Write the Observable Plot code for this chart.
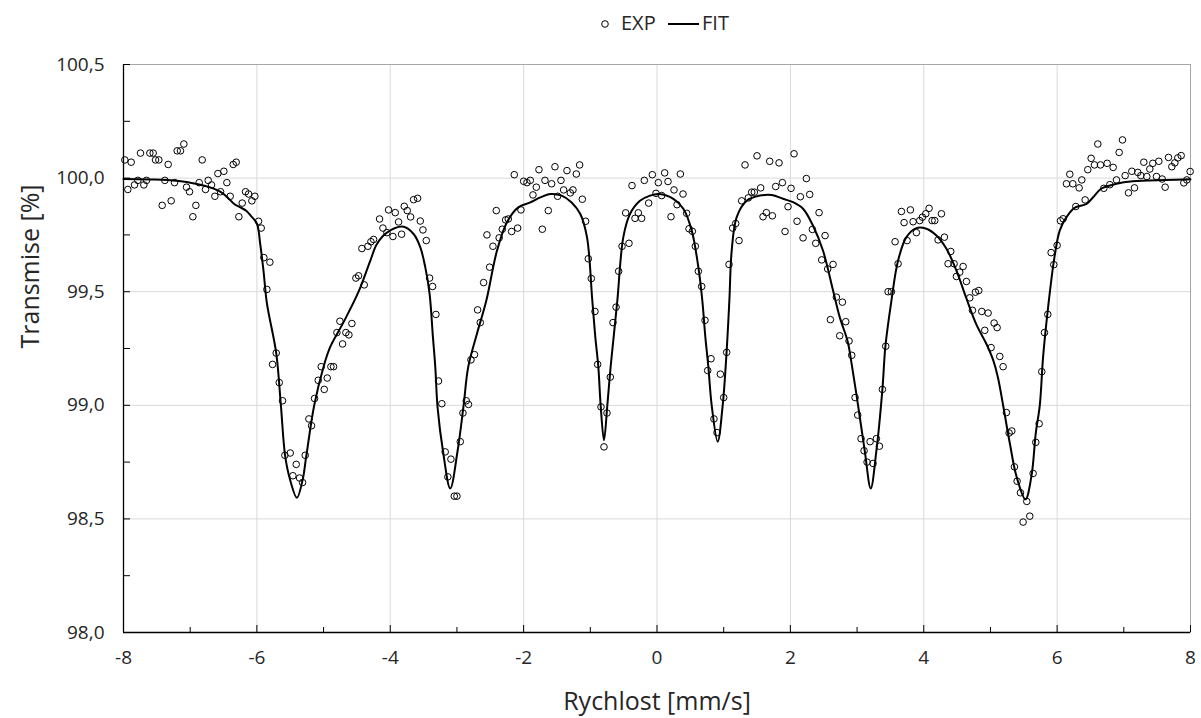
<!DOCTYPE html>
<html>
<head>
<meta charset="utf-8">
<script src="https://cdn.jsdelivr.net/npm/d3@7"></script>
<script src="https://cdn.jsdelivr.net/npm/@observablehq/plot@0.6"></script>
<style>
  html, body { margin: 0; padding: 0; background: #fff; }
  body { width: 1201px; height: 718px; overflow: hidden; font-family: "Open Sans", sans-serif; }
  #legend { position: relative; height: 40px; width: 1201px; }
  #legend .item { position: absolute; top: 12px; font-size: 20px; color: #262626; line-height: 22px; }
</style>
</head>
<body>
<div id="legend"></div>
<div id="chart"></div>
<script>
// ---- data ----
const expV = [
-7.98,-7.935,-7.885,-7.835,-7.785,-7.745,-7.695,-7.655,-7.605,-7.555,-7.52,-7.47,-7.42,-7.38,-7.33,-7.285,-7.235,-7.195,-7.145,-7.095,
-7.055,-7.01,-6.96,-6.915,-6.865,-6.82,-6.77,-6.73,-6.68,-6.63,-6.585,-6.545,-6.495,-6.45,-6.40,-6.355,-6.31,-6.27,-6.22,-6.17,
-6.125,-6.075,-6.03,-5.975,-5.935,-5.895,-5.85,-5.805,-5.765,-5.71,-5.665,-5.615,-5.58,-5.50,-5.46,-5.41,-5.36,-5.315,-5.275,-5.22,
-5.18,-5.135,-5.08,-5.035,-4.99,-4.945,-4.89,-4.85,-4.80,-4.755,-4.715,-4.665,-4.62,-4.575,-4.515,-4.475,-4.425,-4.39,-4.335,-4.29,
-4.25,-4.16,-4.11,-4.05,-4.025,-3.96,-3.925,-3.875,-3.83,-3.79,-3.745,-3.695,-3.65,-3.59,-3.55,-3.51,-3.46,-3.41,-3.365,-3.315,
-3.276,-3.226,-3.176,-3.136,-3.09,-3.04,-3.00,-2.95,-2.91,-2.86,-2.827,-2.79,-2.737,-2.69,-2.65,-2.60,-2.55,-2.51,-2.46,-2.41,
-2.367,-2.32,-2.27,-2.23,-2.18,-2.14,-2.09,-2.04,-2.00,-1.95,-1.90,-1.86,-1.81,-1.77,-1.72,-1.68,-1.63,-1.58,-1.53,-1.49,
-1.44,-1.40,-1.35,-1.30,-1.26,-1.21,-1.16,-1.12,-1.07,-1.03,-0.985,-0.93,-0.89,-0.84,-0.795,-0.75,-0.70,-0.66,-0.614,-0.575,
-0.524,-0.47,-0.42,-0.375,-0.33,-0.28,-0.23,-0.19,-0.125,-0.07,-0.015,0.02,0.07,0.115,0.165,0.21,0.255,0.30,0.35,0.39,
0.445,0.48,0.53,0.575,0.62,0.67,0.72,0.76,0.81,0.854,0.90,0.95,1.00,1.045,1.08,1.135,1.18,1.23,1.27,1.32,
1.37,1.42,1.46,1.50,1.555,1.59,1.64,1.69,1.73,1.78,1.83,1.88,1.92,1.965,2.01,2.055,2.10,2.15,2.19,2.24,
2.29,2.33,2.38,2.43,2.47,2.52,2.56,2.60,2.64,2.69,2.74,2.78,2.83,2.88,2.92,2.97,3.01,3.06,3.105,3.15,
3.195,3.24,3.29,3.335,3.38,3.43,3.465,3.515,3.57,3.615,3.665,3.705,3.75,3.80,3.84,3.89,3.94,3.98,4.03,4.08,
4.125,4.165,4.215,4.265,4.31,4.365,4.405,4.455,4.49,4.54,4.59,4.64,4.69,4.73,4.775,4.825,4.87,4.915,4.965,5.01,
5.055,5.10,5.14,5.19,5.24,5.28,5.32,5.36,5.40,5.45,5.49,5.545,5.59,5.64,5.68,5.73,5.77,5.81,5.86,5.91,
5.95,6.00,6.05,6.09,6.14,6.19,6.235,6.28,6.33,6.37,6.42,6.46,6.51,6.56,6.61,6.65,6.70,6.75,6.79,6.84,
6.89,6.93,6.98,7.02,7.07,7.12,7.16,7.21,7.255,7.30,7.345,7.39,7.435,7.49,7.525,7.575,7.62,7.67,7.72,7.765,
7.81,7.86,7.90,7.945,7.995
];
const expT = [
100.08,99.95,100.07,99.97,99.99,100.11,99.97,99.99,100.11,100.11,100.08,100.08,99.88,99.99,100.06,99.90,99.98,100.12,100.12,100.15,
99.96,99.94,99.83,99.88,99.98,100.08,99.95,99.99,99.97,99.92,100.02,99.94,100.03,99.98,99.92,100.06,100.07,99.83,99.89,99.94,
99.93,99.90,99.92,99.81,99.78,99.65,99.51,99.63,99.18,99.23,99.10,99.02,98.78,98.79,98.69,98.74,98.68,98.66,98.78,98.94,
98.91,99.03,99.11,99.17,99.07,99.12,99.17,99.17,99.32,99.37,99.27,99.32,99.31,99.36,99.56,99.57,99.69,99.53,99.70,99.72,
99.73,99.82,99.78,99.76,99.86,99.743,99.848,99.807,99.753,99.876,99.857,99.829,99.905,99.911,99.811,99.772,99.725,99.56,99.523,99.40,
99.107,99.007,98.795,98.685,98.763,98.60,98.60,98.84,98.966,99.02,99.004,99.20,99.223,99.42,99.364,99.54,99.75,99.608,99.70,99.857,
99.737,99.775,99.816,99.82,99.765,100.015,99.78,99.86,99.986,99.98,99.99,99.926,99.96,100.037,99.775,99.99,99.857,99.975,100.05,99.92,
99.99,99.948,100.033,99.935,99.948,100.018,100.058,99.907,99.81,99.645,99.558,99.413,99.18,98.993,98.817,98.966,99.124,99.364,99.432,99.59,
99.70,99.847,99.713,99.967,99.823,99.847,99.823,99.99,99.89,100.015,99.933,99.98,99.923,100.023,99.985,99.83,99.948,99.883,100.018,99.93,
99.845,99.777,99.766,99.70,99.59,99.523,99.374,99.153,99.205,98.94,98.88,99.137,99.034,99.233,99.62,99.78,99.80,99.725,99.90,100.058,
99.913,99.938,99.938,100.098,99.957,99.83,99.848,100.074,99.834,99.963,100.067,99.98,99.765,99.874,99.955,100.107,99.81,99.918,99.737,99.998,
99.928,99.774,99.713,99.848,99.64,99.747,99.60,99.377,99.62,99.476,99.306,99.454,99.368,99.283,99.22,99.034,98.957,98.853,98.80,98.75,
98.84,98.744,98.853,98.82,99.07,99.26,99.50,99.50,99.72,99.623,99.853,99.804,99.725,99.86,99.808,99.76,99.813,99.828,99.843,99.867,
99.813,99.813,99.728,99.843,99.74,99.623,99.677,99.623,99.567,99.586,99.611,99.545,99.473,99.418,99.498,99.505,99.413,99.33,99.406,99.254,
99.362,99.342,99.215,99.17,98.968,98.878,98.887,98.729,98.666,98.615,98.486,98.577,98.512,98.70,98.837,98.919,99.148,99.32,99.40,99.672,
99.619,99.704,99.812,99.821,99.975,100.017,99.975,99.875,99.957,99.992,99.904,100.037,100.087,100.058,100.15,100.058,99.955,100.065,99.971,100.047,
99.992,100.113,100.168,100.011,99.935,100.03,99.957,100.025,100.011,100.07,100.007,100.04,100.065,100.007,100.074,99.996,99.96,100.091,100.05,100.067,
100.089,100.099,99.979,99.992,100.029
];
const fitV = [
-8,-7.6,-7.2,-6.9,-6.7,-6.55,-6.44,-6.34,-6.24,-6.16,-6.09,-6.0,-5.95,-5.9,-5.85,-5.71,-5.64,-5.575,-5.5,-5.4,
-5.315,-5.26,-5.14,-5.0,-4.9,-4.7,-4.475,-4.3,-4.2,-4.05,-3.8,-3.65,-3.55,-3.475,-3.41,-3.36,-3.325,-3.29,-3.21,-3.10,
-2.99,-2.90,-2.83,-2.70,-2.56,-2.40,-2.25,-2.08,-1.90,-1.75,-1.60,-1.43,-1.28,-1.15,-1.05,-0.97,-0.925,-0.88,-0.845,-0.795,
-0.745,-0.695,-0.64,-0.595,-0.505,-0.405,-0.255,-0.105,0.03,0.245,0.395,0.52,0.62,0.68,0.725,0.77,0.82,0.91,0.985,1.045,
1.085,1.12,1.195,1.345,1.545,1.72,1.89,2.04,2.19,2.34,2.49,2.64,2.74,2.86,2.92,3.015,3.115,3.205,3.29,3.38,
3.425,3.515,3.615,3.74,3.89,4.04,4.19,4.34,4.49,4.64,4.79,4.94,5.04,5.11,5.19,5.29,5.39,5.525,5.615,5.68,
5.74,5.79,5.86,5.96,6.04,6.14,6.26,6.44,6.54,6.66,6.89,7.135,7.635,8.0
];
const fitT = [
99.996,99.994,99.988,99.974,99.959,99.94,99.915,99.886,99.87,99.856,99.834,99.80,99.71,99.59,99.45,99.23,99.0,98.775,98.67,98.593,
98.67,98.775,99.0,99.17,99.257,99.366,99.5,99.636,99.71,99.76,99.786,99.754,99.696,99.608,99.49,99.30,99.17,98.99,98.80,98.634,
98.80,99.0,99.17,99.315,99.46,99.68,99.806,99.871,99.893,99.915,99.93,99.923,99.893,99.842,99.74,99.46,99.30,99.17,99.0,98.846,
99.0,99.17,99.33,99.46,99.74,99.842,99.90,99.923,99.93,99.909,99.865,99.77,99.608,99.46,99.30,99.17,99.0,98.84,99.0,99.242,
99.46,99.68,99.828,99.90,99.923,99.926,99.909,99.894,99.865,99.79,99.68,99.505,99.388,99.28,99.18,99.0,98.80,98.634,98.80,99.07,
99.26,99.46,99.637,99.74,99.78,99.777,99.747,99.689,99.593,99.47,99.355,99.27,99.2,99.126,99.0,98.834,98.688,98.586,98.688,98.878,
99.0,99.214,99.419,99.652,99.77,99.828,99.869,99.886,99.916,99.953,99.975,99.986,99.992,99.995
];
const xTicks = [-8, -6, -4, -2, 0, 2, 4, 6, 8];
const xMinor = [-7, -5, -3, -1, 1, 3, 5, 7];
const yTicks = [98, 98.5, 99, 99.5, 100, 100.5];
const yMinor = [98.25, 98.75, 99.25, 99.75, 100.25];
const seriesNames = ["EXP", "FIT"];
const xTitle = "Rychlost [mm/s]";
const yTitle = "Transmise [%]";

// ---- build ----
const exp = expV.map((v, i) => ({v, t: expT[i]}));
const fit = fitV.map((v, i) => ({v, t: fitT[i]}));

const W = 1201, H = 678, mT = 24, mB = 86, mL = 123, mR = 11;
const plotW = W - mL - mR, plotH = H - mT - mB;
const fmtY = d => d.toFixed(1).replace(".", ",");

const chart = Plot.plot({
  width: W, height: H,
  marginTop: mT, marginBottom: mB, marginLeft: mL, marginRight: mR,
  x: {domain: [-8, 8]},
  y: {domain: [98, 100.5]},
  style: {fontFamily: "Open Sans, sans-serif", fontSize: "19px", color: "#262626", background: "#fff", overflow: "visible"},
  marks: [
    Plot.gridX(xTicks.slice(1, -1), {stroke: "#d9d9d9", strokeOpacity: 1, strokeWidth: 1}),
    Plot.gridY(yTicks.slice(1, -1), {stroke: "#d9d9d9", strokeOpacity: 1, strokeWidth: 1}),
    Plot.frame({stroke: "#a6a6a6", strokeWidth: 1}),
    Plot.ruleX([-8], {stroke: "#000", strokeWidth: 1.3}),
    Plot.ruleY([98], {stroke: "#000", strokeWidth: 1.3}),
    Plot.tickX(xTicks, {x: d => d, insetTop: plotH - 7, stroke: "#000"}),
    Plot.tickX(xMinor, {x: d => d, insetTop: plotH - 5, stroke: "#000"}),
    Plot.tickY(yTicks, {y: d => d, insetRight: plotW - 7, stroke: "#000"}),
    Plot.tickY(yMinor, {y: d => d, insetRight: plotW - 7, stroke: "#000"}),
    Plot.axisX(xTicks, {tickSize: 0, tickPadding: 18, label: null, tickFormat: d => String(d), fill: "#262626"}),
    Plot.axisY(yTicks, {tickSize: 0, tickPadding: 19, label: null, tickFormat: fmtY, fill: "#262626"}),
    Plot.text([xTitle], {frameAnchor: "bottom", dy: 77, fontSize: 25, fill: "#262626", text: d => d}),
    Plot.text([yTitle], {frameAnchor: "left", dx: -93, rotate: -90, fontSize: 25, fill: "#262626", text: d => d}),
    Plot.dot(exp, {x: "v", y: "t", r: 3.3, stroke: "#000", strokeWidth: 1, fill: "none"}),
    Plot.line(fit, {x: "v", y: "t", stroke: "#000", strokeWidth: 2, curve: "catmull-rom"})
  ]
});
document.getElementById("chart").appendChild(chart);

// legend
const lg = document.getElementById("legend");
lg.innerHTML = `
  <svg style="position:absolute;left:0;top:0" width="1201" height="40">
    <circle cx="605" cy="24" r="3.3" fill="none" stroke="#000" stroke-width="1"></circle>
    <line x1="668" x2="699" y1="24" y2="24" stroke="#000" stroke-width="2"></line>
  </svg>
  <span class="item" style="left:621px">${seriesNames[0]}</span>
  <span class="item" style="left:702px">${seriesNames[1]}</span>`;
</script>
</body>
</html>
